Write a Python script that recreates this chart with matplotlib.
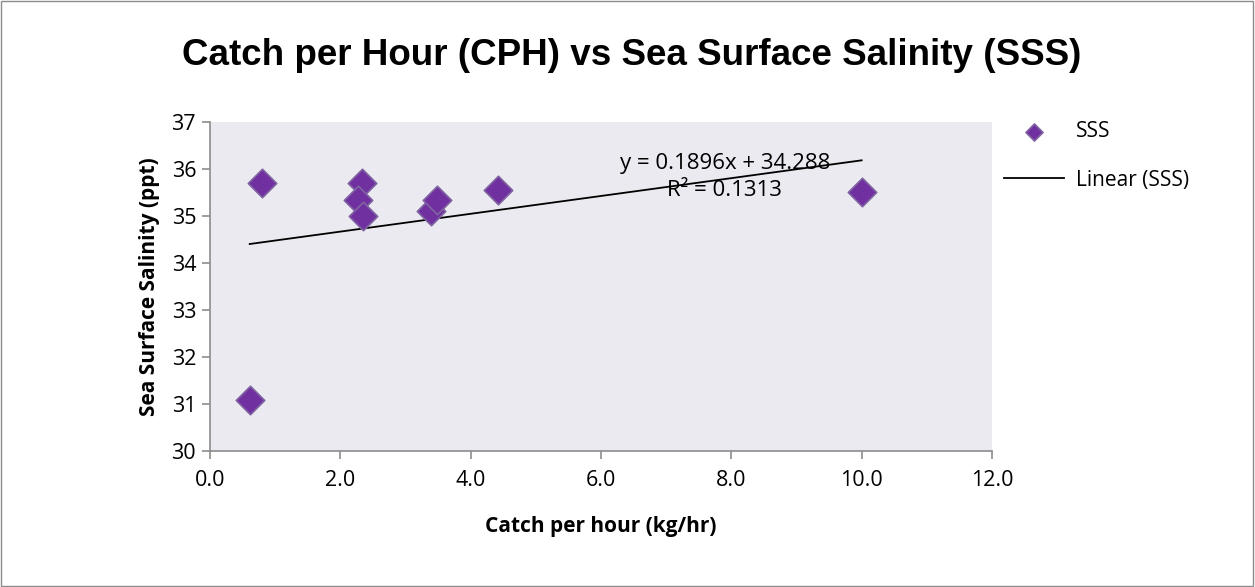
import matplotlib
matplotlib.use("Agg")
import matplotlib.pyplot as plt
from matplotlib.patches import Rectangle
import numpy as np

cph = [0.61, 0.80, 2.33, 2.27, 2.35, 3.39, 3.48, 4.42, 10.0]
sss = [31.08, 35.70, 35.70, 35.33, 35.00, 35.10, 35.33, 35.55, 35.50]
slope, intercept = 0.1896, 34.288
r2 = 0.1313
xticks = [0, 2, 4, 6, 8, 10, 12]
yticks = [30, 31, 32, 33, 34, 35, 36, 37]

fig = plt.figure(figsize=(12.55, 5.87), dpi=100)
fig.patches.append(Rectangle((0.0005, 0.001), 0.998, 0.997, transform=fig.transFigure,
                             fill=False, edgecolor="#8c8c8c", linewidth=1))
ax = fig.add_axes([0.1673, 0.2317, 0.7904 - 0.1673, 0.7922 - 0.2317])
ax.set_facecolor("#ECEAF1")

ax.scatter(cph, sss, marker="D", s=210, color="#7030A0", edgecolors="#8064A2",
           linewidths=1.2, zorder=3, label="SSS")
xs = np.array([min(cph), max(cph)])
ax.plot(xs, slope * xs + intercept, color="black", linewidth=1.3, zorder=2,
        label="Linear (SSS)")

ax.set_xlim(0, 12)
ax.set_ylim(30, 37)
ax.set_xticks(xticks)
ax.set_xticklabels([f"{t:.1f}" for t in xticks])
ax.set_yticks(yticks)
for s in ["top", "right"]:
    ax.spines[s].set_visible(False)
for s in ["left", "bottom"]:
    ax.spines[s].set_color("#8c8c8c")
    ax.spines[s].set_linewidth(1.2)
ax.tick_params(axis="both", direction="out", length=6, color="#8c8c8c", width=1.2,
               labelsize=15.5)
ax.tick_params(axis="x", pad=8)
ax.tick_params(axis="y", pad=4)
for lab in ax.get_xticklabels() + ax.get_yticklabels():
    lab.set_family("Open Sans")

ax.set_xlabel("Catch per hour (kg/hr)", fontsize=15, fontweight="bold",
              family="Open Sans", labelpad=18)
ax.set_ylabel("Sea Surface Salinity (ppt)", fontsize=15, fontweight="bold",
              family="Open Sans", labelpad=8)

ax.text(7.9, 35.83, f"y = {slope}x + {intercept}\nR² = {r2}", ha="center", va="center",
        fontsize=16, family="Open Sans", linespacing=1.35, zorder=4)

fig.text(0.503, 0.906, "Catch per Hour (CPH) vs Sea Surface Salinity (SSS)",
         ha="center", va="center", fontsize=26.5, fontweight="bold",
         family="Liberation Sans")

leg = fig.legend(loc="upper left", bbox_to_anchor=(0.785, 0.825), frameon=False,
                 prop={"family": "Open Sans", "size": 15},
                 handlelength=2.9, handletextpad=0.55, labelspacing=1.3,
                 markerscale=0.6)
fig.savefig("out.png", dpi=100)
